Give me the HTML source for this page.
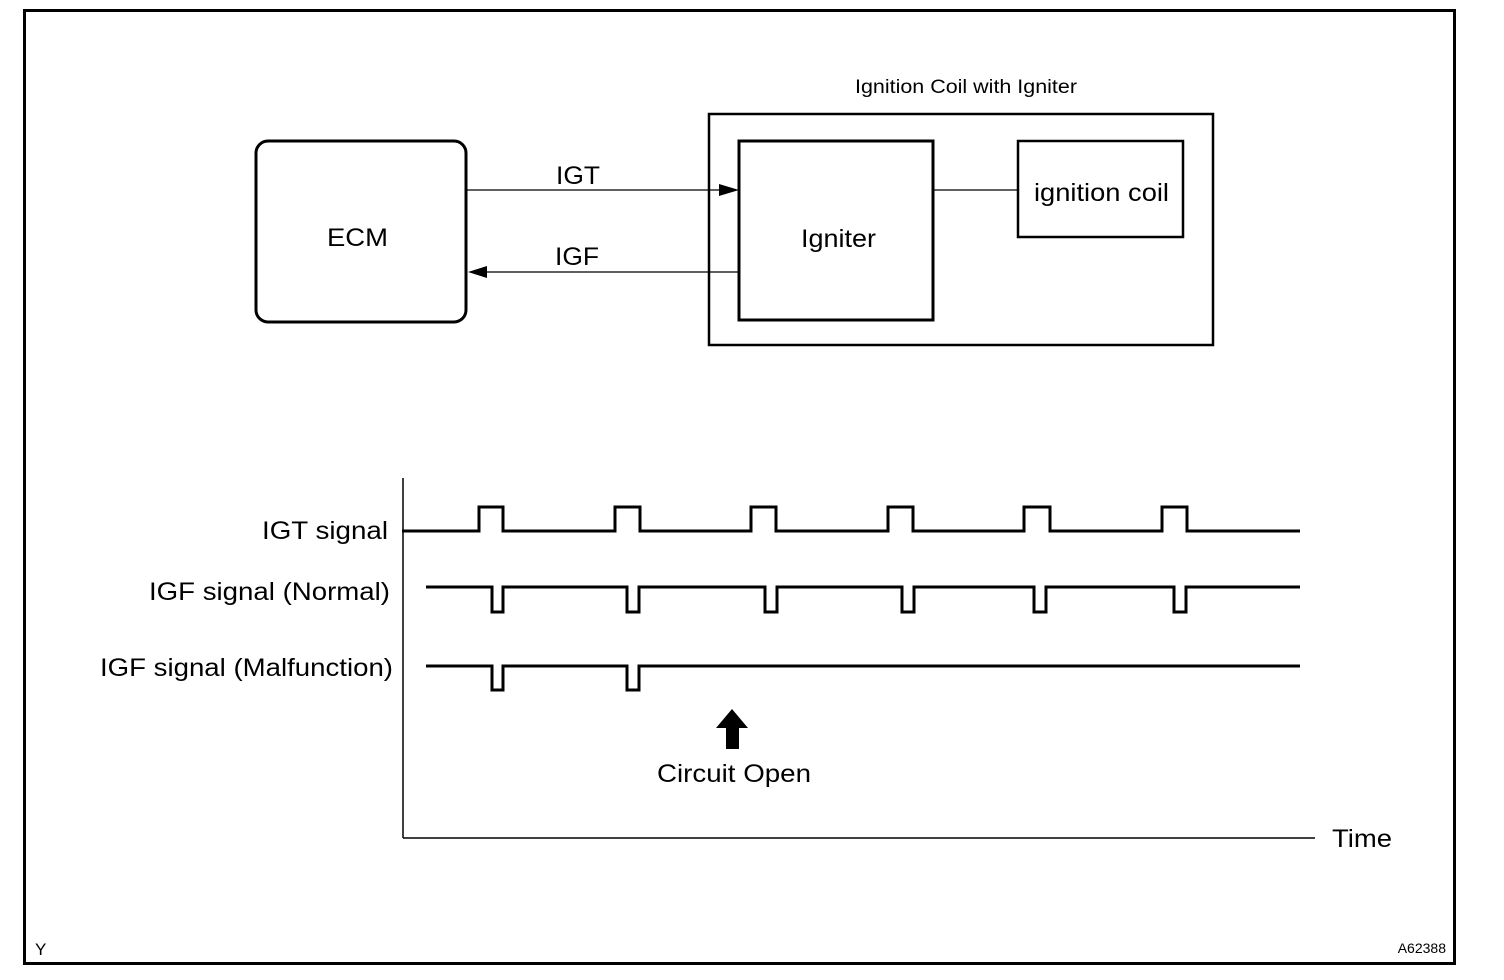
<!DOCTYPE html>
<html><head><style>
html,body{margin:0;padding:0;background:#fff;}
svg{display:block;}
text{font-family:"Liberation Sans",sans-serif;fill:#000;}
</style></head><body>
<svg width="1504" height="980" viewBox="0 0 1504 980">
<rect x="24.5" y="10.5" width="1430" height="953" fill="none" stroke="#000" stroke-width="3"/>
<!-- ECM -->
<rect x="256" y="141" width="210" height="181" rx="12" fill="none" stroke="#000" stroke-width="3"/>
<text x="327" y="246" font-size="25" textLength="61" lengthAdjust="spacingAndGlyphs">ECM</text>
<!-- outer igniter box -->
<text x="855" y="93" font-size="19" textLength="222" lengthAdjust="spacingAndGlyphs">Ignition Coil with Igniter</text>
<rect x="709" y="114" width="504" height="231" fill="none" stroke="#000" stroke-width="2.5"/>
<rect x="739" y="141" width="194" height="179" fill="none" stroke="#000" stroke-width="3"/>
<text x="801" y="247" font-size="25" textLength="75" lengthAdjust="spacingAndGlyphs">Igniter</text>
<rect x="1018" y="141" width="165" height="96" fill="none" stroke="#000" stroke-width="2.5"/>
<text x="1034" y="201" font-size="25" textLength="135" lengthAdjust="spacingAndGlyphs">ignition coil</text>
<line x1="933" y1="190" x2="1018" y2="190" stroke="#000" stroke-width="1.2"/>
<!-- IGT / IGF -->
<line x1="467" y1="190" x2="722" y2="190" stroke="#000" stroke-width="1.2"/>
<polygon points="739,190 719,184 719,196" fill="#000"/>
<text x="556" y="184" font-size="25" textLength="44" lengthAdjust="spacingAndGlyphs">IGT</text>
<line x1="485" y1="272" x2="739" y2="272" stroke="#000" stroke-width="1.2"/>
<polygon points="468,272 487,266 487,278" fill="#000"/>
<text x="555" y="265" font-size="25" textLength="44" lengthAdjust="spacingAndGlyphs">IGF</text>
<!-- axes -->
<line x1="403" y1="478" x2="403" y2="838" stroke="#000" stroke-width="1.5"/>
<line x1="403" y1="838" x2="1315" y2="838" stroke="#000" stroke-width="1.5"/>
<text x="1332" y="847" font-size="25" textLength="60" lengthAdjust="spacingAndGlyphs">Time</text>
<!-- labels -->
<text x="262" y="539" font-size="25" textLength="126" lengthAdjust="spacingAndGlyphs">IGT signal</text>
<text x="149" y="600" font-size="25" textLength="241" lengthAdjust="spacingAndGlyphs">IGF signal (Normal)</text>
<text x="100" y="676" font-size="25" textLength="293" lengthAdjust="spacingAndGlyphs">IGF signal (Malfunction)</text>
<g fill="none" stroke="#000" stroke-width="3">
<polyline points="402,531 479,531 479,507 503,507 503,531 615,531 615,507 640,507 640,531 751,531 751,507 776,507 776,531 888,531 888,507 913,507 913,531 1024,531 1024,507 1050,507 1050,531 1162,531 1162,507 1187,507 1187,531 1300,531"/>
<polyline points="426,587 492,587 492,612 503,612 503,587 627,587 627,612 639,612 639,587 765,587 765,612 777,612 777,587 902,587 902,612 914,612 914,587 1034,587 1034,612 1046,612 1046,587 1174,587 1174,612 1186,612 1186,587 1300,587"/>
<polyline points="426,666 492,666 492,690 503,690 503,666 627,666 627,690 639,690 639,666 1300,666"/>
</g>
<!-- circuit open arrow -->
<polygon points="732,709 748,728 739,728 739,749 726,749 726,728 716,728" fill="#000"/>
<text x="657" y="782" font-size="25" textLength="154" lengthAdjust="spacingAndGlyphs">Circuit Open</text>
<text x="35" y="955" font-size="17">Y</text>
<text x="1446" y="953" font-size="14" text-anchor="end">A62388</text>
</svg>
</body></html>
